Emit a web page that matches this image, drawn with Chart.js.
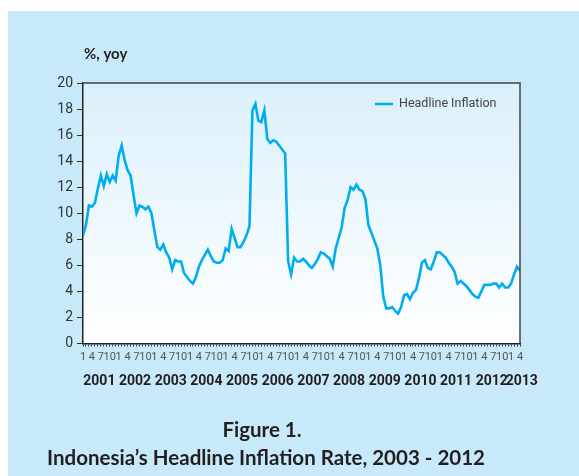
<!DOCTYPE html>
<html>
<head>
<meta charset="utf-8">
<script src="https://cdn.jsdelivr.net/npm/chart.js@4.4.1/dist/chart.umd.min.js"></script>
<style>
  html, body { margin: 0; padding: 0; background: #fff; }
  #wrap { width: 579px; height: 476px; }
</style>
</head>
<body>
<div id="wrap"><canvas id="myChart" width="579" height="476"></canvas></div>
<script>
// monthly, Jan 2001 - Apr 2013
var years = [2001, 2002, 2003, 2004, 2005, 2006, 2007, 2008, 2009, 2010, 2011, 2012, 2013];
var monthTicks = ['1', '4', '7', '10'];
var yTicks = [0, 2, 4, 6, 8, 10, 12, 14, 16, 18, 20];
var seriesName = 'Headline Inflation';
var inflation = [
    8.3, 9.1, 10.6, 10.5, 10.8, 11.9, 12.9, 12.1, 13.0, 12.4, 12.9, 12.5,   // 2001
    14.4, 15.2, 14.1, 13.3, 12.9, 11.4, 10.0, 10.6, 10.5, 10.3, 10.5, 10.0, // 2002
    8.7, 7.4, 7.2, 7.6, 7.0, 6.6, 5.7, 6.4, 6.3, 6.3, 5.4, 5.1,             // 2003
    4.8, 4.6, 5.1, 5.9, 6.4, 6.8, 7.2, 6.7, 6.3, 6.2, 6.2, 6.4,             // 2004
    7.3, 7.1, 8.8, 8.1, 7.4, 7.4, 7.8, 8.3, 9.0, 17.9, 18.4, 17.1,          // 2005
    17.0, 17.9, 15.7, 15.4, 15.6, 15.5, 15.2, 14.9, 14.6, 6.3, 5.3, 6.6,    // 2006
    6.3, 6.3, 6.5, 6.3, 6.0, 5.8, 6.1, 6.5, 7.0, 6.9, 6.7, 6.5,             // 2007
    5.9, 7.3, 8.1, 8.9, 10.4, 11.0, 12.0, 11.8, 12.2, 11.8, 11.7, 11.1,     // 2008
    9.1, 8.5, 7.9, 7.3, 6.0, 3.6, 2.7, 2.7, 2.8, 2.5, 2.3, 2.8,             // 2009
    3.7, 3.8, 3.4, 3.9, 4.1, 5.0, 6.2, 6.4, 5.8, 5.7, 6.3, 7.0,             // 2010
    7.0, 6.8, 6.6, 6.2, 5.9, 5.5, 4.6, 4.8, 4.6, 4.4, 4.1, 3.8,             // 2011
    3.6, 3.5, 4.0, 4.5, 4.5, 4.5, 4.6, 4.6, 4.3, 4.6, 4.3, 4.3,             // 2012
    4.6, 5.3, 5.9, 5.6                                                      // 2013
];

var lastIdx = inflation.length - 1;

var backdrop = {
    id: 'backdrop',
    beforeDraw: function(chart) {
        var ctx = chart.ctx, a = chart.chartArea;
        ctx.save();
        ctx.fillStyle = '#fff';
        ctx.fillRect(0, 0, chart.width, chart.height);
        ctx.fillStyle = '#c7e9f9';
        ctx.fillRect(8, 11, chart.width - 8, chart.height - 11);
        var g = ctx.createLinearGradient(0, a.top, 0, a.bottom);
        g.addColorStop(0, '#dbf0fb');
        g.addColorStop(1, '#ffffff');
        ctx.fillStyle = g;
        ctx.fillRect(a.left, a.top, a.right - a.left, a.bottom - a.top);

        ctx.fillStyle = '#231f20';
        ctx.font = 'bold 15px Lato';
        ctx.textAlign = 'left';
        ctx.textBaseline = 'alphabetic';
        ctx.fillText('%, yoy', 84, 59);

        ctx.textAlign = 'center';
        ctx.font = 'bold 20.5px Lato';
        ctx.fillText('Figure 1.', 262, 437);
        ctx.fillText('Indonesia\u2019s Headline Inflation Rate, 2003 - 2012', 266, 465);
        ctx.restore();
    },
    afterDraw: function(chart) {
        var ctx = chart.ctx, a = chart.chartArea;
        ctx.save();
        ctx.strokeStyle = '#444';
        ctx.lineWidth = 1.5;
        ctx.beginPath();
        ctx.moveTo(a.left, a.top);
        ctx.lineTo(a.right, a.top);
        ctx.lineTo(a.right, a.bottom);
        ctx.stroke();

        // legend
        ctx.strokeStyle = '#00aeef';
        ctx.lineWidth = 2.5;
        ctx.beginPath();
        ctx.moveTo(a.right - 145, a.top + 21);
        ctx.lineTo(a.right - 127, a.top + 21);
        ctx.stroke();
        ctx.fillStyle = '#444';
        ctx.font = '12.5px Roboto';
        ctx.textAlign = 'left';
        ctx.textBaseline = 'middle';
        ctx.fillText(seriesName, a.right - 121, a.top + 21);
        ctx.restore();
    }
};

var ctx = document.getElementById('myChart').getContext('2d');
var myChart = new Chart(ctx, {
    type: 'line',
    data: {
        datasets: [{
            label: seriesName,
            data: inflation.map(function(v, i) { return {x: i, y: v}; }),
            borderColor: '#00aeef',
            borderWidth: 2.6,
            pointRadius: 0,
            tension: 0,
            fill: false
        }]
    },
    options: {
        responsive: false,
        animation: false,
        devicePixelRatio: 1,
        layout: { padding: { left: 0, top: 83, right: 59, bottom: 88.5 } },
        plugins: { legend: { display: false }, tooltip: { enabled: false } },
        scales: {
            x: {
                type: 'linear', min: 0, max: lastIdx, position: 'bottom', weight: 0,
                afterFit: function(s) { s.height = 22; },
                grid: { drawOnChartArea: false, tickLength: 3, color: '#333', lineWidth: 1 },
                border: { color: '#222', width: 1.5 },
                ticks: {
                    stepSize: 1, autoSkip: false, maxRotation: 0, minRotation: 0, padding: 4,
                    font: { family: 'Roboto', size: 11 }, color: '#555',
                    callback: function(v) { return v % 3 === 0 ? monthTicks[(v % 12) / 3] : ''; }
                }
            },
            years: {
                type: 'linear', min: 0, max: lastIdx, position: 'bottom', weight: 1,
                afterFit: function(s) { s.height = 22; },
                afterBuildTicks: function(s) {
                    s.ticks = years.map(function(y, k) {
                        return { value: k < years.length - 1 ? k * 12 + 5.5 : lastIdx + 0.6 };
                    });
                },
                grid: { display: false },
                border: { display: false },
                ticks: {
                    autoSkip: false, maxRotation: 0, minRotation: 0, padding: 0,
                    font: { family: 'Roboto', size: 14, weight: 'bold' }, color: '#231f20',
                    callback: function(v, i) { return years[i]; }
                }
            },
            y: {
                min: 0, max: 20,
                afterFit: function(s) { s.width = 83; },
                afterBuildTicks: function(s) {
                    s.ticks = yTicks.map(function(t) { return { value: t }; });
                },
                grid: { drawOnChartArea: false, tickLength: 6, color: '#333', lineWidth: 1 },
                border: { color: '#222', width: 1.5 },
                ticks: { padding: 4, font: { family: 'Roboto', size: 14 }, color: '#333' }
            }
        }
    },
    plugins: [backdrop]
});
</script>
</body>
</html>
